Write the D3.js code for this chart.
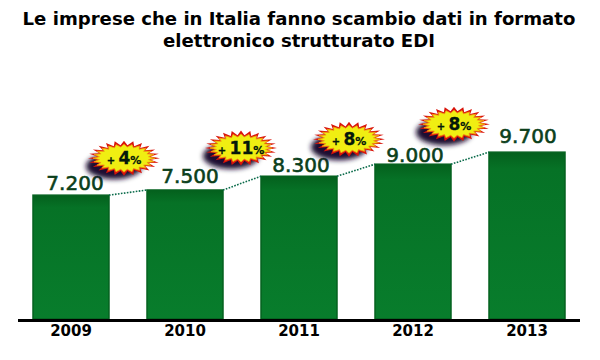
<!DOCTYPE html>
<html>
<head>
<meta charset="utf-8">
<script src="https://cdn.jsdelivr.net/npm/d3@7"></script>
<style>
  html, body { margin: 0; padding: 0; background: #fff; }
  svg { display: block; }
  text { font-family: "DejaVu Sans", sans-serif; }
</style>
</head>
<body>
<svg id="chart"></svg>
<script>
// Data
const years = ["2009", "2010", "2011", "2012", "2013"];
const values = [7200, 7500, 8300, 9000, 9700];
const valueLabels = ["7.200", "7.500", "8.300", "9.000", "9.700"];
const growthLabels = ["4", "11", "8", "8"];
const titleLines = ["Le imprese che in Italia fanno scambio dati in formato", "elettronico strutturato EDI"];

const width = 600, height = 360;
const baseline = 319;

const svg = d3.select("#chart").attr("width", width).attr("height", height);

// Scales
const x = d3.scaleBand().domain(years).range([33, 565]).paddingInner(1 / 3).paddingOuter(0);
const y = d3.scaleLinear().domain([0, 10000]).range([baseline, 147]);

// Gradients and shadow
const defs = svg.append("defs");

const barGrad = defs.append("linearGradient").attr("id", "barGrad")
    .attr("x1", 0).attr("y1", 0).attr("x2", 0).attr("y2", 1);
barGrad.append("stop").attr("offset", "0%").attr("stop-color", "#04601d");
barGrad.append("stop").attr("offset", "10%").attr("stop-color", "#067226");
barGrad.append("stop").attr("offset", "100%").attr("stop-color", "#087d2c");

const shadow = defs.append("filter").attr("id", "burstShadow")
    .attr("x", "-40%").attr("y", "-40%").attr("width", "180%").attr("height", "200%");
shadow.append("feGaussianBlur").attr("stdDeviation", 2.5);

// Bars
svg.selectAll(".bar")
    .data(years)
    .enter().append("rect")
    .attr("class", "bar")
    .attr("x", d => x(d))
    .attr("width", x.bandwidth())
    .attr("y", (d, i) => y(values[i]))
    .attr("height", (d, i) => baseline - y(values[i]))
    .attr("fill", "url(#barGrad)")
    .attr("stroke", "#05611f")
    .attr("stroke-width", 1.5);

// Dotted connectors between bars
svg.selectAll(".link")
    .data(years.slice(0, -1))
    .enter().append("line")
    .attr("class", "link")
    .attr("x1", d => x(d) + x.bandwidth())
    .attr("y1", (d, i) => y(values[i]))
    .attr("x2", (d, i) => x(years[i + 1]))
    .attr("y2", (d, i) => y(values[i + 1]))
    .attr("stroke", "#0a6b4a")
    .attr("stroke-width", 1.6)
    .attr("stroke-dasharray", "1.6 1.4");

// Axis line and year labels
const xAxis = svg.append("g")
    .attr("transform", "translate(0," + baseline + ")")
    .call(d3.axisBottom(x).tickSize(0).tickPadding(6));
xAxis.select(".domain").remove();
xAxis.selectAll("text")
    .attr("fill", "#000")
    .style("font-size", "15px")
    .style("font-weight", "bold");

svg.append("rect").attr("x", 18).attr("y", baseline).attr("width", 562).attr("height", 3).attr("fill", "#000");

// Value labels, nudged to where they sit in the picture
const labelDx = [4, 5, 2, 2, 1];
const labelDy = [-5, -7, -4, -2, -9];

svg.selectAll(".value")
    .data(years)
    .enter().append("text")
    .attr("class", "value")
    .attr("x", (d, i) => x(d) + x.bandwidth() / 2 + labelDx[i])
    .attr("y", (d, i) => y(values[i]) + labelDy[i])
    .attr("text-anchor", "middle")
    .attr("fill", "#0b3f1b")
    .attr("stroke", "#0b3f1b")
    .attr("stroke-width", 0.6)
    .style("font-size", "20px")
    .text((d, i) => valueLabels[i]);

// Starburst outline
function burstPath(rx, ry, inner, n) {
    const pts = d3.range(n * 2).map(i => {
        const a = i * Math.PI / n;
        const k = i % 2 ? inner : 1;
        return [Math.cos(a) * rx * k, Math.sin(a) * ry * k];
    });
    return d3.line()(pts) + "Z";
}

// Burst offsets from the right top corner of the bar
const burstDx = [15, 18, 12, 3];
const burstDy = [-37, -42, -37, -40];

const bursts = svg.selectAll(".burst")
    .data(growthLabels)
    .enter().append("g")
    .attr("class", "burst")
    .attr("transform", (d, i) => "translate(" + (x(years[i]) + x.bandwidth() + burstDx[i]) + "," + (y(values[i]) + burstDy[i]) + ")");

bursts.append("ellipse")
    .attr("cx", -10).attr("cy", 8).attr("rx", 28).attr("ry", 13)
    .attr("fill", "#1e1030")
    .attr("filter", "url(#burstShadow)");

bursts.append("path").attr("d", burstPath(36, 17.5, 0.74, 24)).attr("fill", "#d9140a");
bursts.append("path").attr("d", burstPath(31, 14, 0.8, 24)).attr("fill", "#f0ee12").attr("stroke", "#f09a10").attr("stroke-width", 0.8);

const burstText = bursts.append("text")
    .attr("y", 6)
    .attr("text-anchor", "middle")
    .attr("fill", "#04180a")
    .attr("stroke", "#04180a")
    .attr("stroke-width", 0.3)
    .style("font-weight", "bold");
burstText.append("tspan").style("font-size", "10px").text("+ ");
burstText.append("tspan").style("font-size", "17px").text(d => d);
burstText.append("tspan").style("font-size", "11px").text("%");

// Title
svg.selectAll(".title")
    .data(titleLines)
    .enter().append("text")
    .attr("class", "title")
    .attr("x", 299)
    .attr("y", (d, i) => 25 + i * 22)
    .attr("text-anchor", "middle")
    .attr("fill", "#000")
    .style("font-size", "18.1px")
    .style("font-weight", "bold")
    .text(d => d);
</script>
</body>
</html>
